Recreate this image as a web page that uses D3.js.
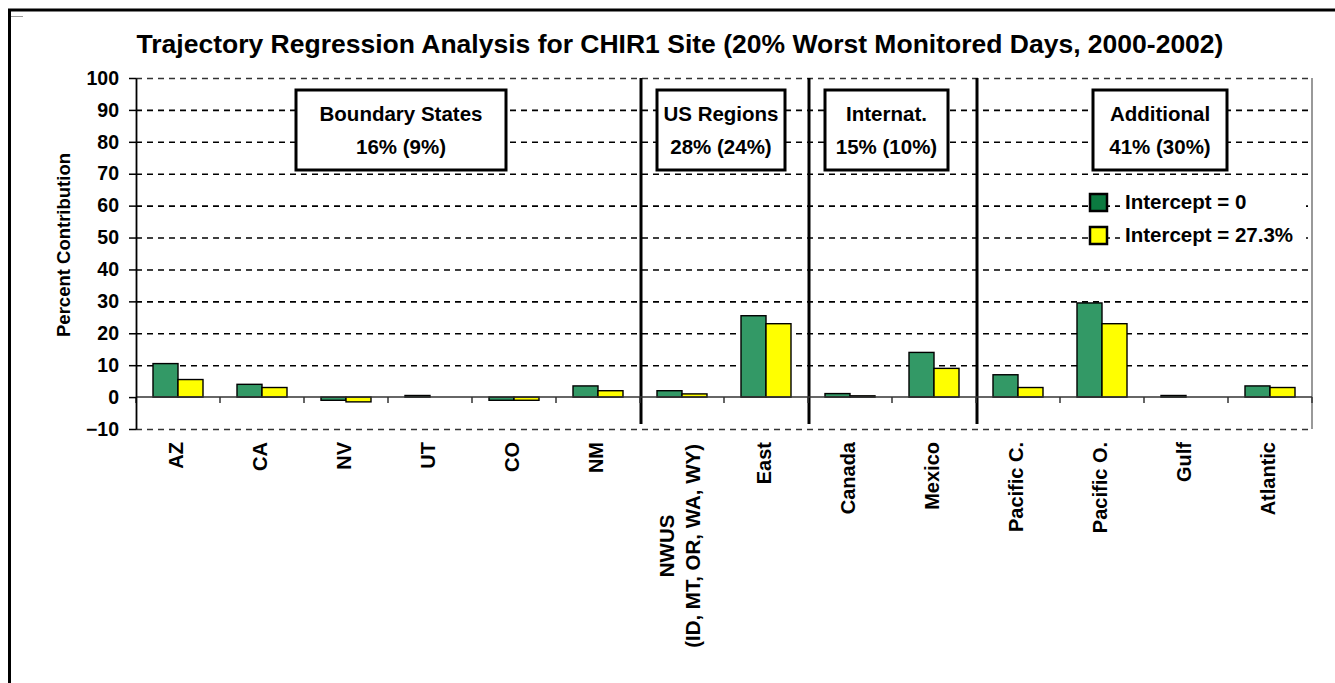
<!DOCTYPE html>
<html>
<head>
<meta charset="utf-8">
<script src="https://cdn.jsdelivr.net/npm/d3@7"></script>
<style>
  body { margin: 0; background: #fff; }
  text { font-family: Arial, "Liberation Sans", sans-serif; font-weight: bold; fill: #000; }
</style>
</head>
<body>
<svg id="chart" width="1335" height="683"></svg>
<script>
// data
var categories = ["AZ", "CA", "NV", "UT", "CO", "NM", "NWUS\n(ID, MT, OR, WA, WY)", "East",
                  "Canada", "Mexico", "Pacific C.", "Pacific O.", "Gulf", "Atlantic"];
var intercept0 =  [10.5, 4.0, -1.0, 0.5, -1.0, 3.5, 2.0, 25.5, 1.1, 14.0, 7.0, 29.5, 0.5, 3.5];
var intercept27 = [5.5, 3.0, -1.5, 0.0, -1.0, 2.0, 1.0, 23.0, 0.4, 9.0, 3.0, 23.0, 0.0, 3.0];
var seriesNames = ["Intercept = 0", "Intercept = 27.3%"];
var yTicks = [-10, 0, 10, 20, 30, 40, 50, 60, 70, 80, 90, 100];
var groupNames = ["Boundary States", "US Regions", "Internat.", "Additional"];
var groupShares = ["16% (9%)", "28% (24%)", "15% (10%)", "41% (30%)"];
var groupBreaks = [6, 8, 10];   // category index where a new group starts

// layout
var plot = {left: 136, right: 1312, top: 78, bottom: 429};
var boxes = [[296, 506], [657, 785], [825, 948], [1093, 1227]];
var colors = ["#339966", "#ffff00"];
var legendColors = ["#0b7a40", "#ffff00"];

var svg = d3.select("#chart");

// outer frame
svg.append("line").attr("x1", 8).attr("x2", 1335).attr("y1", 10).attr("y2", 10)
  .attr("stroke", "#000").attr("stroke-width", 3);
svg.append("line").attr("x1", 9.5).attr("x2", 9.5).attr("y1", 9).attr("y2", 683)
  .attr("stroke", "#000").attr("stroke-width", 3);
svg.append("line").attr("x1", 11).attr("x2", 23).attr("y1", 16.5).attr("y2", 16.5)
  .attr("stroke", "#999").attr("stroke-width", 1);

var x = d3.scaleBand().domain(categories).range([plot.left, plot.right]);
var xs = d3.scaleBand().domain([0, 1]).range([0, x.bandwidth()]).paddingOuter(0.68);
var y = d3.scaleLinear().domain([-10, 100]).range([plot.bottom, plot.top]);

// title
svg.append("text")
  .attr("x", 680).attr("y", 53)
  .attr("text-anchor", "middle")
  .style("font-size", "26.5px")
  .text("Trajectory Regression Analysis for CHIR1 Site (20% Worst Monitored Days, 2000-2002)");

// gridlines
svg.append("g").selectAll("line")
  .data(yTicks.filter(function(d) { return d !== 0; }))
  .enter().append("line")
    .attr("x1", plot.left).attr("x2", plot.right)
    .attr("y1", function(d) { return y(d) + 0.5; })
    .attr("y2", function(d) { return y(d) + 0.5; })
    .attr("stroke", function(d) { return (d === 100 || d === -10) ? "#333" : "#000"; })
    .attr("stroke-width", 1.6)
    .attr("stroke-dasharray", "6,5");

// right border of plot
svg.append("line")
  .attr("x1", plot.right).attr("x2", plot.right)
  .attr("y1", plot.top).attr("y2", plot.bottom)
  .attr("stroke", "#777").attr("stroke-width", 1.5);

// group separators
svg.append("g").selectAll("line")
  .data(groupBreaks)
  .enter().append("line")
    .attr("x1", function(i) { return x(categories[i]) + 1; })
    .attr("x2", function(i) { return x(categories[i]) + 1; })
    .attr("y1", plot.top).attr("y2", plot.bottom - 5)
    .attr("stroke", "#000").attr("stroke-width", 3);

// group boxes
var box = svg.append("g").selectAll("g")
  .data(groupNames)
  .enter().append("g");
box.append("rect")
  .attr("x", function(d, i) { return boxes[i][0]; })
  .attr("width", function(d, i) { return boxes[i][1] - boxes[i][0]; })
  .attr("y", 90).attr("height", 80)
  .attr("fill", "#fff").attr("stroke", "#000").attr("stroke-width", 3);
box.append("text")
  .attr("x", function(d, i) { return (boxes[i][0] + boxes[i][1]) / 2; })
  .attr("y", 121)
  .attr("text-anchor", "middle").style("font-size", "20.5px")
  .text(function(d) { return d; });
box.append("text")
  .attr("x", function(d, i) { return (boxes[i][0] + boxes[i][1]) / 2; })
  .attr("y", 154)
  .attr("text-anchor", "middle").style("font-size", "20.5px")
  .text(function(d, i) { return groupShares[i]; });

// bars
var series = [intercept0, intercept27];
var bars = svg.append("g").selectAll("g")
  .data(categories)
  .enter().append("g")
    .attr("transform", function(d) { return "translate(" + x(d) + ",0)"; });
bars.selectAll("rect")
  .data(function(d, i) { return series.map(function(s, k) { return {k: k, v: s[i]}; }); })
  .enter().append("rect")
    .attr("x", function(d) { return xs(d.k); })
    .attr("width", xs.bandwidth())
    .attr("y", function(d) { return y(Math.max(0, d.v)); })
    .attr("height", function(d) { return Math.abs(y(d.v) - y(0)); })
    .attr("fill", function(d) { return colors[d.k]; })
    .attr("stroke", "#000").attr("stroke-width", 1.4);

// zero line and category ticks
svg.append("line")
  .attr("x1", plot.left).attr("x2", plot.right)
  .attr("y1", y(0)).attr("y2", y(0))
  .attr("stroke", "#333").attr("stroke-width", 1.5);
svg.append("g").selectAll("line")
  .data(categories.map(function(d) { return x(d); }).concat([plot.right]))
  .enter().append("line")
    .attr("x1", function(d) { return d; }).attr("x2", function(d) { return d; })
    .attr("y1", y(0)).attr("y2", y(0) + 6)
    .attr("stroke", "#333").attr("stroke-width", 1.5);

// y axis
var yAxis = svg.append("g")
  .attr("transform", "translate(" + plot.left + ",0)")
  .call(d3.axisLeft(y).tickValues(yTicks).tickSize(7).tickSizeOuter(0).tickPadding(10));
yAxis.select(".domain").attr("stroke", "#000").attr("stroke-width", 1.8);
yAxis.selectAll(".tick line").attr("stroke", "#000").attr("stroke-width", 1.5);
yAxis.selectAll(".tick text")
  .style("font-size", "19.5px").style("font-family", "Arial, 'Liberation Sans', sans-serif")
  .style("font-weight", "bold").attr("fill", "#000");

svg.append("text")
  .attr("transform", "translate(70,245) rotate(-90)")
  .attr("text-anchor", "middle")
  .style("font-size", "18.5px")
  .text("Percent Contribution");

// x labels
var labels = svg.append("g").selectAll("g")
  .data(categories)
  .enter().append("g")
    .attr("transform", function(d) { return "translate(" + (x(d) + x.bandwidth() / 2 - 2) + ",442) rotate(-90)"; });
labels.each(function(d) {
  var g = d3.select(this);
  var lines = d.split("\n");
  if (lines.length === 1) {
    g.append("text").attr("text-anchor", "end").attr("dy", "0.33em")
      .style("font-size", "20px").text(d);
  } else {
    var t = g.selectAll("text").data(lines).enter().append("text")
      .attr("text-anchor", "middle")
      .style("font-size", "20.5px")
      .attr("y", function(l, i) { return (i - (lines.length - 1) / 2) * 26; })
      .attr("dy", "0.33em")
      .text(function(l) { return l; });
    var maxLen = d3.max(t.nodes(), function(n) { return n.getComputedTextLength(); });
    t.attr("x", -maxLen / 2 - 2);
  }
});

// legend
var legend = svg.append("g").selectAll("g")
  .data(seriesNames)
  .enter().append("g")
    .attr("transform", function(d, i) { return "translate(1090," + (194 + i * 33) + ")"; });
legend.append("rect")
  .attr("x", 30).attr("y", -3).attr("width", 186).attr("height", 24).attr("fill", "#fff");
legend.append("rect")
  .attr("width", 17).attr("height", 17)
  .attr("fill", function(d, i) { return legendColors[i]; })
  .attr("stroke", "#000").attr("stroke-width", 2.5);
legend.append("text")
  .attr("x", 35).attr("y", 15)
  .style("font-size", "20.5px")
  .text(function(d) { return d; });
</script>
</body>
</html>
